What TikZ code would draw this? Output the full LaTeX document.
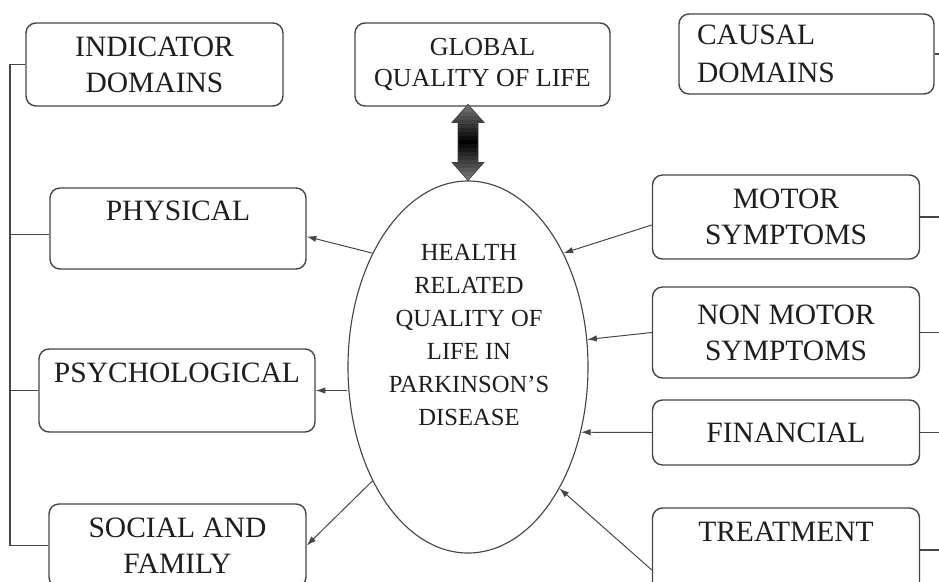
\documentclass[tikz,border=0pt]{standalone}
\usepackage{fontspec}
\setmainfont{Liberation Serif}
\usetikzlibrary{arrows.meta,shapes.geometric}
\definecolor{linegray}{HTML}{454545}
\definecolor{inkgray}{HTML}{1E1E1E}
\begin{document}
\begin{tikzpicture}[x=0.25mm, y=-0.25mm,
    box/.style={draw=linegray, line width=1pt, rounded corners=2.5mm, align=center,
      text=inkgray, font=\fontsize{21}{25.5}\selectfont, inner sep=2pt},
    leftbox/.style={box, minimum width=64.25mm, minimum height=20.75mm},
    rightbox/.style={box, minimum width=66.75mm, minimum height=21mm},
    arr/.style={draw=linegray, line width=0.7pt, -{Latex[length=2.4mm,width=1.6mm]}},
    bus/.style={draw=linegray, line width=0.8pt}]

  \useasboundingbox (0,0) rectangle (939,582);

  % Top row
  \node[leftbox] (ind) at (154.5,64.5) {INDICATOR\\DOMAINS};
  \node[box, minimum width=63.75mm, minimum height=20.75mm,
    font=\fontsize{18.5}{22.7}\selectfont] (glob) at (482.5,64.5) {GLOBAL\\QUALITY OF LIFE};
  \node[box, text width=54.75mm, inner xsep=4.5mm, minimum height=20mm, align=left,
    font=\fontsize{21}{27}\selectfont] (caus) at (806.5,54) {CAUSAL\\DOMAINS};

  % Indicator domains
  \node[leftbox, minimum width=64mm, minimum height=20.25mm] (phys) at (178,228.5) {PHYSICAL\\~};
  \node[leftbox, minimum width=69mm] (psych) at (177,390.5) {PSYCHOLOGICAL\\~};
  \node[leftbox] (soc) at (177.5,545.5) {SOCIAL AND\\FAMILY};

  % Causal domains
  \node[rightbox] (motor) at (786,217) {MOTOR\\SYMPTOMS};
  \node[rightbox, minimum height=22.75mm] (nonm) at (786,332.5) {NON MOTOR\\SYMPTOMS};
  \node[rightbox, minimum height=16.25mm] (fin) at (786,432.5) {FINANCIAL};
  \node[rightbox] (treat) at (786,550) {TREATMENT\\~};

  % Central ellipse
  \node[draw=linegray, line width=0.8pt, ellipse, minimum width=60mm, minimum height=93mm]
    (hrql) at (468,367) {};
  \node[align=center, text=inkgray, font=\fontsize{17.5}{23.4}\selectfont]
    (hrqltxt) at (469,335) {HEALTH\\RELATED\\QUALITY OF\\LIFE IN\\PARKINSON’S\\DISEASE};

  % Two-way link to global quality of life (dark in the middle)
  \begin{scope}
    \clip (hrql.north) -- ++(-16,-18) -- ++(6,0) -- ++(0,-40) -- ++(-6,0) -- ++(16,-18)
      -- ++(16,18) -- ++(-6,0) -- ++(0,40) -- ++(6,0) -- cycle;
    \foreach \i in {0,...,18} {
      \pgfmathsetmacro\shadepct{100-45*abs(\i-9)/9}
      \fill[black!\shadepct] ([shift={(-20,{-76+4*\i})}]hrql.north) rectangle ++(40,4.3);
    }
  \end{scope}
  \draw[linegray, line width=0.5pt]
    (hrql.north) -- ++(-16,-18) -- ++(6,0) -- ++(0,-40) -- ++(-6,0) -- ++(16,-18)
    -- ++(16,18) -- ++(-6,0) -- ++(0,40) -- ++(6,0) -- cycle;

  % Arrows out to indicator domains
  \draw[arr] (hrql.130) -- ([yshift=-2mm]phys.east);
  \draw[arr] (hrql.west |- psych.east) -- (psych.east);
  \draw[arr] (hrql.230) -- (soc.east);

  % Arrows in from causal domains
  \draw[arr] ([yshift=-2mm]motor.west) -- (hrql.50);
  \draw[arr] (nonm.west) -- (hrql.13);
  \draw[arr] (fin.west) -- (hrql.330);
  \draw[arr] ([yshift=-5mm]treat.west) -- (hrql.307);

  % Side lines
  \coordinate (lbus) at (10,0);
  \coordinate (rbus) at (939,0);
  \draw[bus] (ind.west) -| (lbus |- soc.west) -- (soc.west);
  \draw[bus] ([yshift=-1.5mm]phys.west) -- ([yshift=-1.5mm]phys.west -| lbus);
  \draw[bus] (psych.west) -- (psych.west -| lbus);
  \foreach \n in {caus,motor,nonm,fin,treat}
    \draw[bus] (\n.east) -- (\n.east -| rbus);
\end{tikzpicture}
\end{document}
